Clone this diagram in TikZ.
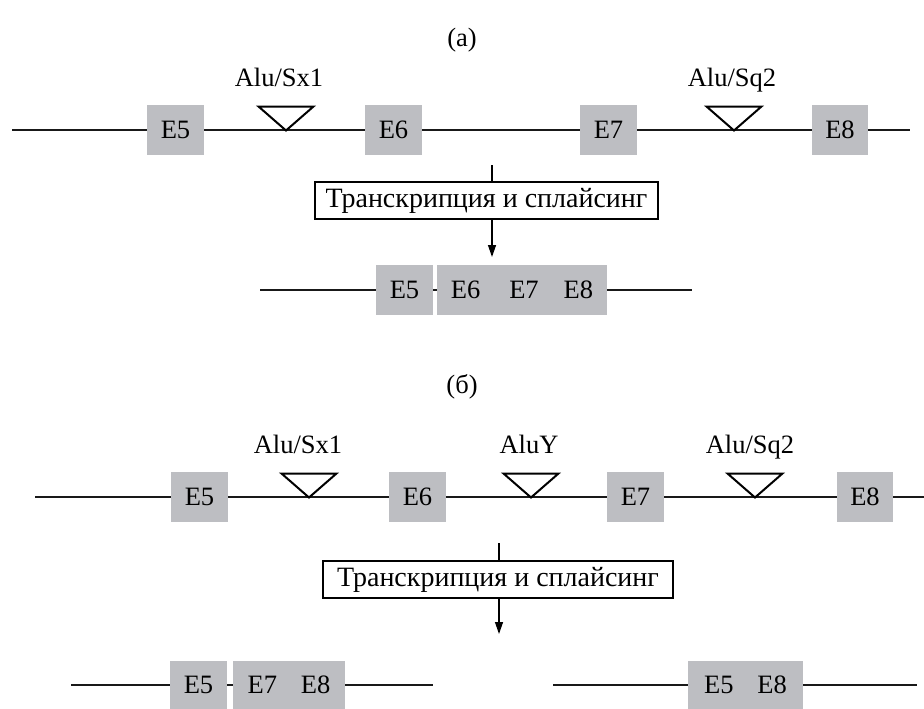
\documentclass[tikz,border=0pt]{standalone}
\usepackage{fontspec}
\setmainfont{Liberation Serif}
\usetikzlibrary{arrows.meta}
\definecolor{exongray}{RGB}{189,190,194}
\begin{document}
\begin{tikzpicture}[x=1pt,y=-1pt,
  dna/.style={line width=2.2pt,black!90},
  exon/.style={fill=exongray,draw=none,minimum height=50pt,inner sep=0pt,font=\fontsize{26.5}{30}\selectfont},
  lbl/.style={font=\fontsize{26.5}{30}\selectfont,inner sep=0pt},
  alu/.style={draw,line width=2pt,fill=white,line join=miter},
  proc/.style={draw,line width=1.3pt,fill=white,minimum height=37pt,inner sep=0pt,font=\fontsize{28}{32}\selectfont},
  flow/.style={line width=1.3pt},
  flowarr/.style={line width=1.3pt,-{Triangle[length=12pt,width=8pt]}},
  alutri/.pic={\draw[alu] (-27.5,-23.5) -- (27.5,-23.5) -- (0,0.5) -- cycle;}
]
\useasboundingbox (0,0) rectangle (924,709);

% ---------------- panel (a) ----------------
\node[lbl] (la) at (462,40) {(а)};
\coordinate (a0) at (12,130);
\coordinate (a1) at (910,130);
\draw[dna] (a0) -- (a1);
\node[exon,minimum width=57pt] (aE5) at (175.5,130) {E5};
\node[exon,minimum width=57pt] (aE6) at (393.5,130) {E6};
\node[exon,minimum width=57pt] (aE7) at (608.5,130) {E7};
\node[exon,minimum width=56pt] (aE8) at (840,130) {E8};
\pic at (286,130) {alutri};
\pic at (734,130) {alutri};
\node[lbl,anchor=base] (aSx1) at (279,87) {Alu/Sx1};
\node[lbl,anchor=base] (aSq2) at (732,87) {Alu/Sq2};

\coordinate (ta) at (492,165);
\node[proc,minimum width=343pt] (pa) at (486.5,200.5) {Транскрипция и сплайсинг};
\coordinate (tipa) at (492,257);
\draw[flow] (ta) -- (ta |- pa.north);
\draw[flowarr] (ta |- pa.south) -- (tipa);

\coordinate (b0) at (260,290);
\coordinate (b1) at (692,290);
\draw[dna] (b0) -- (b1);
\node[exon,minimum width=57pt] (bE5) at (404.5,290) {E5};
\node[exon,minimum width=170pt] (bE678) at (522,290) {E6\hspace{29pt}E7\hspace{25pt}E8};

% ---------------- panel (b) ----------------
\node[lbl] (lb) at (462,387) {(б)};
\coordinate (c0) at (35,497);
\coordinate (c1) at (924,497);
\draw[dna] (c0) -- (c1);
\node[exon,minimum width=57pt] (cE5) at (199.5,497) {E5};
\node[exon,minimum width=57pt] (cE6) at (417.5,497) {E6};
\node[exon,minimum width=57pt] (cE7) at (635.5,497) {E7};
\node[exon,minimum width=56pt] (cE8) at (865,497) {E8};
\pic at (309,497) {alutri};
\pic at (531,497) {alutri};
\pic at (755,497) {alutri};
\node[lbl,anchor=base] (cSx1) at (298,453) {Alu/Sx1};
\node[lbl,anchor=base] (cY) at (529,453) {AluY};
\node[lbl,anchor=base] (cSq2) at (750,453) {Alu/Sq2};

\coordinate (tb) at (499,543);
\node[proc,minimum width=350pt] (pb) at (498,579.5) {Транскрипция и сплайсинг};
\coordinate (tipb) at (499,634);
\draw[flow] (tb) -- (tb |- pb.north);
\draw[flowarr] (tb |- pb.south) -- (tipb);

\coordinate (d0) at (71,685);
\coordinate (d1) at (433,685);
\draw[dna] (d0) -- (d1);
\node[exon,minimum width=57pt,minimum height=48pt] (dE5) at (198.5,685) {E5};
\node[exon,minimum width=112pt,minimum height=48pt] (dE78) at (289,685) {E7\hspace{24pt}E8};

\coordinate (e0) at (553,685);
\coordinate (e1) at (917,685);
\draw[dna] (e0) -- (e1);
\node[exon,minimum width=115pt,minimum height=48pt] (eE58) at (745.5,685) {E5\hspace{24pt}E8};
\end{tikzpicture}
\end{document}
